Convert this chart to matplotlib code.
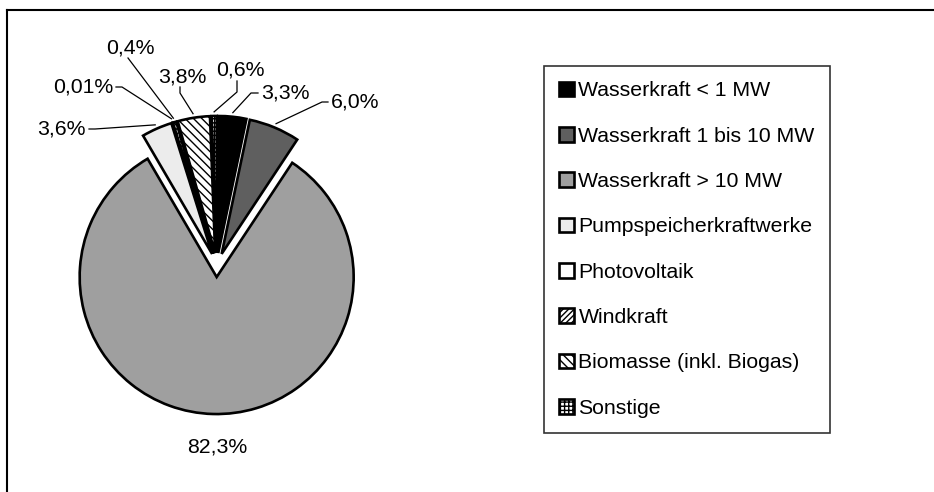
import numpy as np
import matplotlib.pyplot as plt
from matplotlib.lines import Line2D

plt.rcParams['font.family'] = ['Liberation Sans', 'DejaVu Sans']
plt.rcParams['hatch.linewidth'] = 1.0

# data
sources = ['Wasserkraft < 1 MW', 'Wasserkraft 1 bis 10 MW', 'Wasserkraft > 10 MW',
           'Pumpspeicherkraftwerke', 'Photovoltaik', 'Windkraft',
           'Biomasse (inkl. Biogas)', 'Sonstige']
shares = [3.3, 6.0, 82.3, 3.6, 0.01, 0.4, 3.8, 0.6]
share_labels = ['3,3%', '6,0%', '82,3%', '3,6%', '0,01%', '0,4%', '3,8%', '0,6%']

colors = ['#000000', '#5f5f5f', '#9f9f9f', '#ececec',
          '#ffffff', '#ffffff', '#ffffff', '#ffffff']
hatches = [None, None, None, None, None, '//////', '\\\\\\\\', '++++']

W, H = 934, 492
R_PX = 137          # pie radius in pixels
CX, CY = 217, 265   # pie centre in pixels (from top-left)
FS = 15.3


def px(x, y):
    # pixel position (top-left origin) -> data coords of the pie axes
    return (x - CX) / R_PX, (CY - y) / R_PX


fig = plt.figure(figsize=(W / 100, H / 100), dpi=100)
ax = fig.add_axes([0, 0, 1, 1])

wedges, _ = ax.pie(shares, colors=colors, startangle=90, counterclock=False,
                   explode=[0.088] * len(shares),
                   wedgeprops=dict(edgecolor='black', linewidth=1.9))
for w, h in zip(wedges, hatches):
    if h:
        w.set_hatch(h)

ax.set_xlim(-CX / R_PX, (W - CX) / R_PX)
ax.set_ylim(-(H - CY) / R_PX, CY / R_PX)
ax.axis('off')

# label layout (pixels): text x, text y, alignment, leader points near the text
label_layout = [
    (261, 93, 'left', [(251, 93), (258, 93)]),
    (331, 102, 'left', [(322, 102), (328, 102)]),
    (217, 447, 'center', None),
    (86, 129, 'right', [(95, 129), (89, 129)]),
    (113, 87, 'right', [(122, 87), (116, 87)]),
    (130, 48, 'center', [(128, 58)]),
    (182, 77, 'center', [(180, 93), (180, 87)]),
    (240, 70, 'center', [(237, 92), (237, 81)]),
]

for w, txt, (tx, ty, ha, pts) in zip(wedges, share_labels, label_layout):
    ax.text(*px(tx, ty), txt, ha=ha, va='center', fontsize=FS)
    if pts is None:
        continue
    mid = np.deg2rad((w.theta1 + w.theta2) / 2)
    wx, wy = w.center
    sx = wx + (w.r + 0.03) * np.cos(mid)
    sy = wy + (w.r + 0.03) * np.sin(mid)
    xs = [sx] + [px(*p)[0] for p in pts]
    ys = [sy] + [px(*p)[1] for p in pts]
    ax.plot(xs, ys, color='black', lw=0.9)

leg = fig.legend(wedges, sources, loc='upper left',
                 bbox_to_anchor=(544 / W, 1 - 66 / H), borderaxespad=0,
                 frameon=True, fancybox=False, edgecolor='black', fontsize=FS,
                 labelspacing=1.24, handlelength=0.68, handleheight=0.68,
                 handletextpad=0.22, borderpad=0.72)
leg.get_frame().set_linewidth(1.2)

# outer chart frame (only top and left edges fall inside the picture)
fig.add_artist(Line2D([7 / W, 1], [1 - 10 / H, 1 - 10 / H], color='black',
                      lw=1.5, transform=fig.transFigure))
fig.add_artist(Line2D([7 / W, 7 / W], [0, 1 - 10 / H], color='black',
                      lw=1.5, transform=fig.transFigure))

fig.savefig('out.png', dpi=100)
